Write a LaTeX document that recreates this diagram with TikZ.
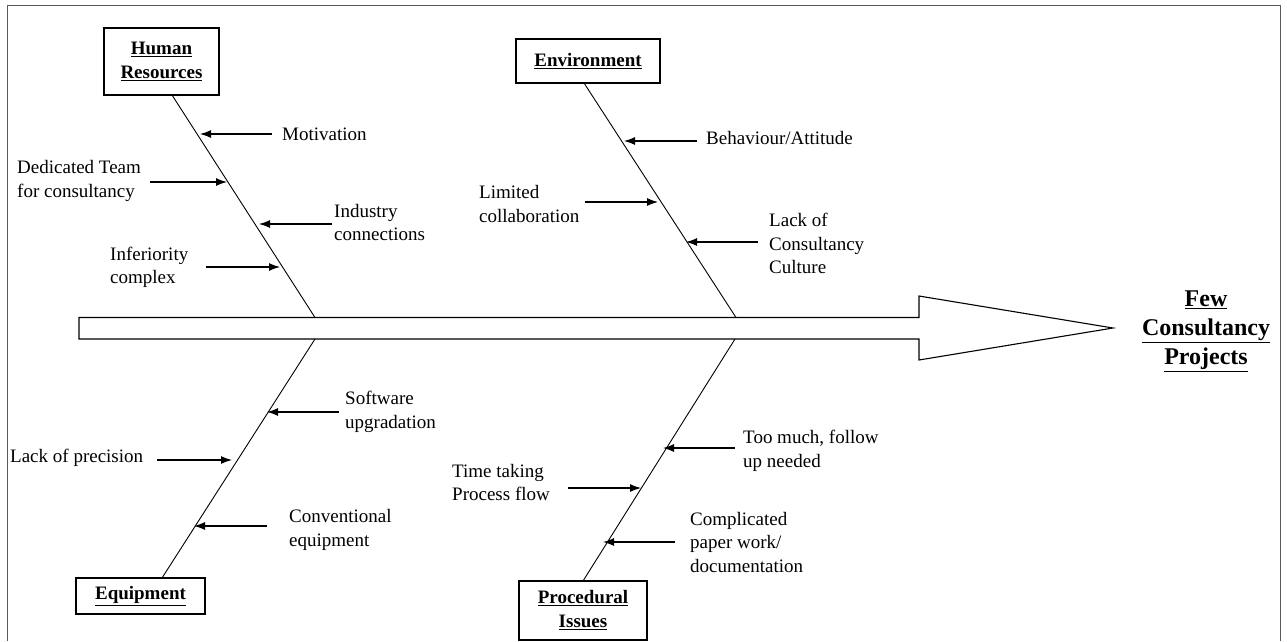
\documentclass[tikz,border=0pt]{standalone}
\usepackage{fontspec}
\setmainfont{Liberation Serif}
\usetikzlibrary{arrows.meta,calc}
\begin{document}
\begin{tikzpicture}[x=1pt,y=-1pt,
  lbl/.style={font=\fontsize{19}{23.5}\selectfont, align=left, inner sep=0pt, anchor=west},
  hd/.style={draw, line width=1.1pt, font=\fontsize{19}{24}\selectfont\bfseries, align=center, inner sep=0pt},
  bone/.style={line width=0.9pt},
  cause/.style={line width=1.1pt, -{Latex[length=11pt,width=8pt]}},
  frame/.style={line width=1pt, draw=black!65},
]
\useasboundingbox (0,0) rectangle (1287,641);
% frame
\draw[frame] (7,641) -- (7,5) -- (1280,5) -- (1280,641);

% spine
\coordinate (sL) at (79,317.5);
\coordinate (hj) at (315,317.5);
\coordinate (ej) at (736,317.5);
\coordinate (qj) at (315,339);
\coordinate (pj) at (735,339);
\coordinate (tip) at (1113,328);
\draw[line width=1.1pt] (sL) -- (919,317.5) -- (919,296) -- (tip) -- (919,360) -- (919,339) -- (79,339) -- cycle;

\node[font=\fontsize{24}{29}\selectfont\bfseries, align=center, inner sep=0pt] (eff) at (1206,331)
  {\underline{Few}\\\underline{Consultancy}\\\underline{Projects}};

% heads
\node[hd, minimum width=115pt, minimum height=67pt] (hr) at (161.5,61.5) {\underline{Human}\\\underline{Resources}};
\node[hd, minimum width=144pt, minimum height=44pt] (env) at (588,61) {\underline{Environment}};
\node[hd, minimum width=129pt, minimum height=36pt] (eq) at (140.5,596) {\underline{Equipment}};
\node[hd, minimum width=128pt, minimum height=59pt] (pr) at (583,610.5) {\underline{Procedural}\\\underline{Issues}};

% bone ends at heads
\coordinate (hrb) at (172,95);
\coordinate (envb) at (584,83);
\coordinate (eqb) at (162,578);
\coordinate (prb) at (583,581);
\draw[bone] (hj) -- (hrb);
\draw[bone] (ej) -- (envb);
\draw[bone] (qj) -- (eqb);
\draw[bone] (pj) -- (prb);

% Human resources causes
\node[lbl] (mot) at (282,134.5) {Motivation};
\node[lbl] (ded) at (17,181) {Dedicated Team\\for consultancy};
\node[lbl] (ind) at (334,222.5) {Industry\\connections};
\node[lbl] (inf) at (110,267.5) {Inferiority\\complex};
\coordinate (tmot) at (200,134);
\coordinate (tded) at (227,182);
\coordinate (tind) at (259,224);
\coordinate (tinf) at (280,267);
\draw[cause] ($(mot.west)+(-10,-0.5)$) -- (tmot);
\draw[cause] ($(ded.east)+(9,1)$) -- (tded);
\draw[cause] ($(ind.west)+(-2,1.5)$) -- (tind);
\draw[cause] ($(inf.east)+(18,-0.5)$) -- (tinf);

% Environment causes
\node[lbl] (beh) at (706,137.5) {Behaviour/Attitude};
\node[lbl] (lim) at (479,204) {Limited\\collaboration};
\node[lbl] (lac) at (769,243.5) {Lack of\\Consultancy\\Culture};
\coordinate (tbeh) at (624,141);
\coordinate (tlim) at (658,202);
\coordinate (tlac) at (686,242);
\draw[cause] ($(beh.west)+(-9,3.5)$) -- (tbeh);
\draw[cause] ($(lim.east)+(5,-2)$) -- (tlim);
\draw[cause] ($(lac.west)+(-11,-1.5)$) -- (tlac);

% Equipment causes
\node[lbl] (sw) at (345,412) {Software\\upgradation};
\node[lbl] (lop) at (10,457.5) {Lack of precision};
\node[lbl] (conv) at (289,530) {Conventional\\equipment};
\coordinate (tsw) at (267,412);
\coordinate (tlop) at (232,460);
\coordinate (tconv) at (194,526);
\draw[cause] ($(sw.west)+(-6,0)$) -- (tsw);
\draw[cause] ($(lop.east)+(14,2.5)$) -- (tlop);
\draw[cause] ($(conv.west)+(-22,-4)$) -- (tconv);

% Procedural causes
\node[lbl] (too) at (743,451) {Too much, follow\\up needed};
\node[lbl] (tim) at (452,482.5) {Time taking\\Process flow};
\node[lbl] (com) at (690,542) {Complicated\\paper work/\\documentation};
\coordinate (ttoo) at (663,448);
\coordinate (ttim) at (641,488);
\coordinate (tcom) at (603,542);
\draw[cause] ($(too.west)+(-8,-3)$) -- (ttoo);
\draw[cause] ($(tim.east)+(18,5.5)$) -- (ttim);
\draw[cause] ($(com.west)+(-15,0)$) -- (tcom);
\end{tikzpicture}
\end{document}
